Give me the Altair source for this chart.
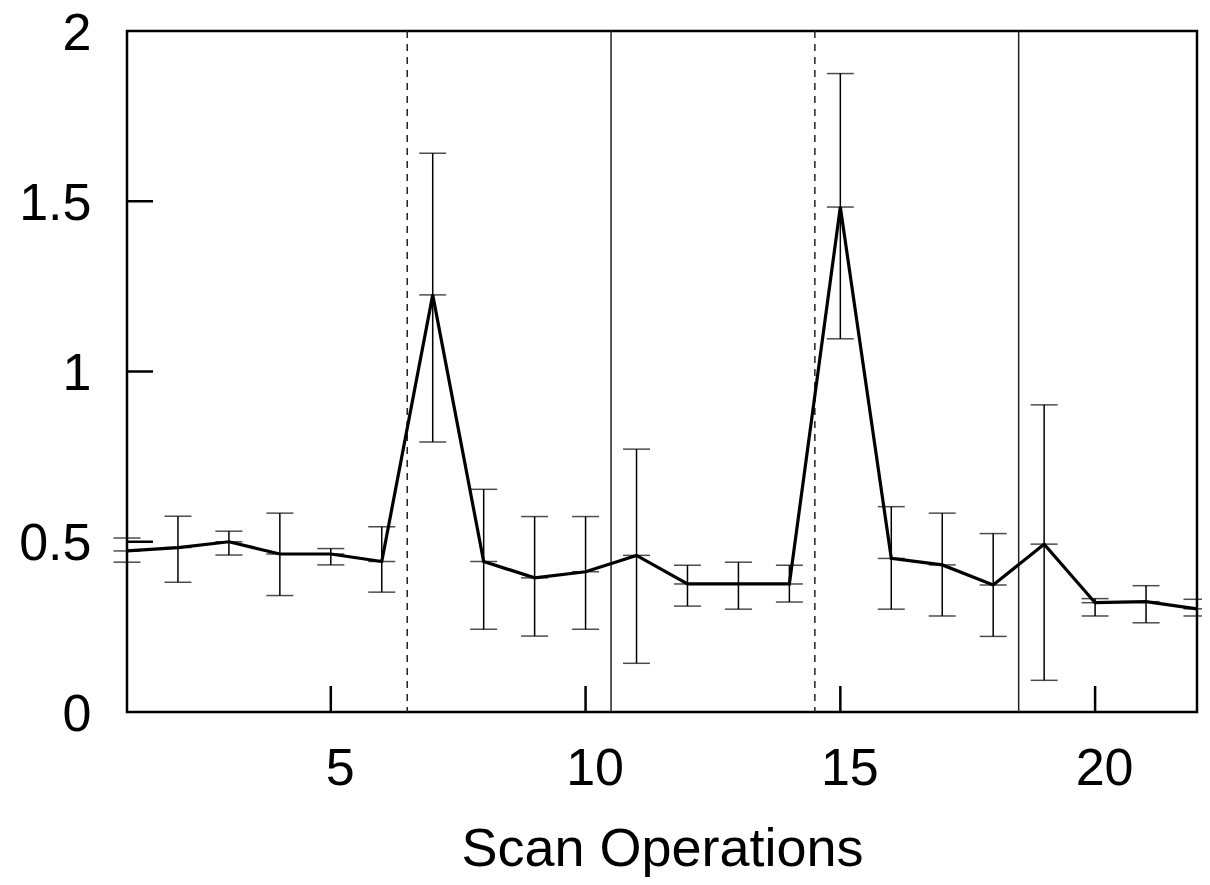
import altair as alt
import pandas as pd

# ---- data ----
scan_ops = list(range(1, 23))
mean_vals = [0.473, 0.483, 0.500, 0.464, 0.464, 0.442, 1.225, 0.442, 0.394, 0.412, 0.460,
             0.376, 0.376, 0.376, 1.483, 0.451, 0.432, 0.373, 0.493, 0.321, 0.324, 0.303]
low_vals = [0.440, 0.381, 0.461, 0.342, 0.432, 0.352, 0.793, 0.243, 0.223, 0.243, 0.143,
            0.311, 0.302, 0.323, 1.096, 0.302, 0.282, 0.222, 0.093, 0.282, 0.262, 0.282]
high_vals = [0.511, 0.575, 0.531, 0.584, 0.480, 0.544, 1.641, 0.654, 0.574, 0.574, 0.772,
             0.431, 0.440, 0.431, 1.875, 0.603, 0.584, 0.524, 0.902, 0.333, 0.371, 0.331]

dashed_sep = [6.5, 14.5]
solid_sep = [10.5, 18.5]
x_ticks = [5, 10, 15, 20]
y_ticks = [0, 0.5, 1, 1.5, 2]
y_inner_ticks = [0.5, 1, 1.5]

W, H = 1070, 681
FONT = "Liberation Sans"

df = pd.DataFrame({"x": scan_ops, "y": mean_vals, "lo": low_vals, "hi": high_vals})
caps = pd.concat([
    pd.DataFrame({"x": scan_ops, "v": low_vals}),
    pd.DataFrame({"x": scan_ops, "v": high_vals}),
    pd.DataFrame({"x": scan_ops, "v": mean_vals}),
])

xscale = alt.Scale(domain=[1, 22], nice=False, zero=False)
yscale = alt.Scale(domain=[0, 2], nice=False, zero=True)

xaxis = alt.Axis(values=x_ticks, domain=False, ticks=False, grid=False,
                 labelFontSize=52, labelFont=FONT, labelColor="black",
                 labelPadding=31, labelOffset=9, labelAngle=0,
                 title="Scan Operations", titleFontSize=54, titleFont=FONT,
                 titleFontWeight="normal", titleColor="black",
                 titleY=153, titleBaseline="alphabetic")
yaxis = alt.Axis(values=y_ticks, format="~g", domain=False, ticks=False, grid=False,
                 labelFontSize=52, labelFont=FONT, labelColor="black",
                 labelBaseline="alphabetic", labelOffset=18,
                 labelPadding=36, title=None)

base = alt.Chart(df)

line = base.mark_line(color="black", strokeWidth=3.2).encode(
    x=alt.X("x:Q", scale=xscale, axis=xaxis),
    y=alt.Y("y:Q", scale=yscale, axis=yaxis),
)

err = base.mark_rule(color="black", strokeWidth=1.5).encode(
    x=alt.X("x:Q", scale=xscale),
    y=alt.Y("lo:Q", scale=yscale),
    y2="hi:Q",
)

capmarks = alt.Chart(caps).mark_tick(color="black", thickness=1.5, size=27, orient="horizontal").encode(
    x=alt.X("x:Q", scale=xscale),
    y=alt.Y("v:Q", scale=yscale),
)

dashed = alt.Chart(pd.DataFrame({"x": dashed_sep})).mark_rule(
    color="#222", strokeWidth=1.5, strokeDash=[7, 6]).encode(
    x=alt.X("x:Q", scale=xscale), y=alt.value(0), y2=alt.value(H))

solid = alt.Chart(pd.DataFrame({"x": solid_sep})).mark_rule(
    color="#222", strokeWidth=1.5).encode(
    x=alt.X("x:Q", scale=xscale), y=alt.value(0), y2=alt.value(H))

xt = alt.Chart(pd.DataFrame({"x": x_ticks})).mark_rule(
    color="black", strokeWidth=2.5).encode(
    x=alt.X("x:Q", scale=xscale), y=alt.value(H), y2=alt.value(H - 26))

yt = alt.Chart(pd.DataFrame({"y": y_inner_ticks})).mark_rule(
    color="black", strokeWidth=2.5).encode(
    y=alt.Y("y:Q", scale=yscale), x=alt.value(0), x2=alt.value(26))

chart = alt.layer(dashed, solid, err, capmarks, line, xt, yt).properties(
    width=W, height=H,
    autosize=alt.AutoSizeParams(type="none"),
    padding={"left": 119, "top": 23, "right": 5, "bottom": 165},
).configure(
    background="white"
).configure_view(
    stroke="black", strokeWidth=2.5, fill="white"
)

chart.save("out.html", embed_options={"renderer": "svg", "actions": False})
